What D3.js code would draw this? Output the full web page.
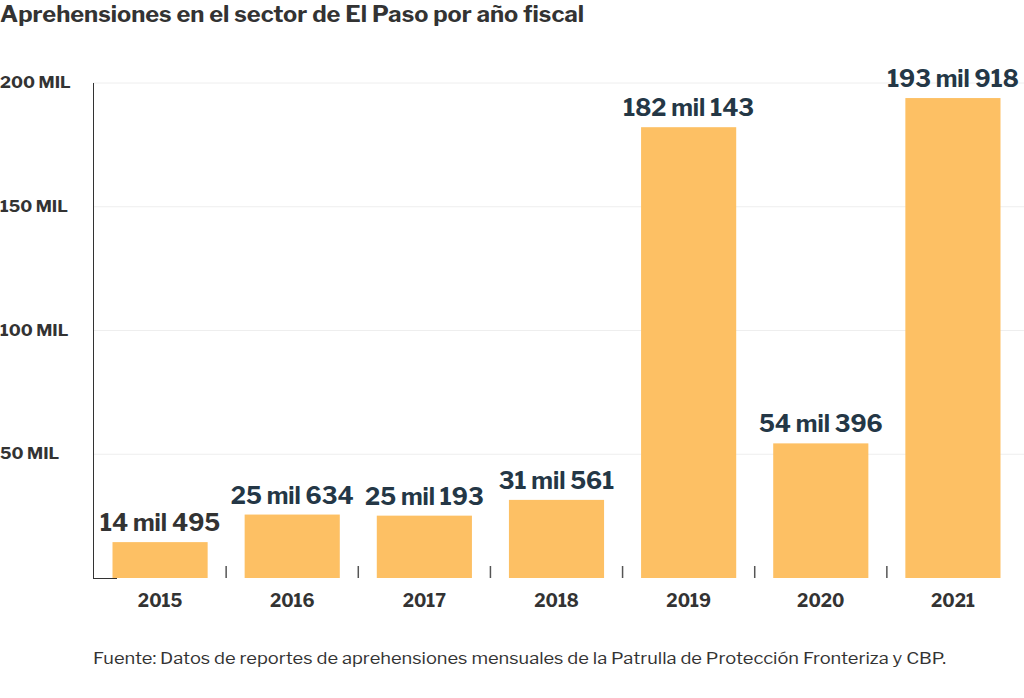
<!DOCTYPE html>
<html>
<head>
<meta charset="utf-8">
<script src="https://cdn.jsdelivr.net/npm/d3@7"></script>
<style>
  body { margin: 0; background: #fff; }
  svg { display: block; font-family: "Libre Franklin", Inter, "Noto Sans", sans-serif; }
</style>
</head>
<body>
<svg id="chart" width="1024" height="698"></svg>
<script>
// data
const years = ["2015", "2016", "2017", "2018", "2019", "2020", "2021"];
const apprehensions = [14495, 25634, 25193, 31561, 182143, 54396, 193918];
const yTicks = [50000, 100000, 150000, 200000];

const svg = d3.select("#chart");
const margin = { left: 93, right: 5, top: 83, bottom: 120 };
const width = 1024, height = 698;

// scales
const x = d3.scaleBand()
  .domain(years)
  .range([margin.left + 1, width - margin.right])
  .paddingInner(0.28)
  .paddingOuter(0.14);

const y = d3.scaleLinear()
  .domain([0, 200000])
  .range([height - margin.bottom, margin.top]);

// label like "14 mil 495"
function milLabel(v) {
  const k = Math.floor(v / 1000);
  const r = v % 1000;
  return k + " mil " + String(r).padStart(3, "0");
}

// title
svg.append("text")
  .attr("x", 0)
  .attr("y", 22)
  .attr("font-size", 22)
  .attr("font-weight", 700)
  .attr("fill", "#333")
  .attr("textLength", 584)
  .attr("lengthAdjust", "spacingAndGlyphs")
  .text("Aprehensiones en el sector de El Paso por año fiscal");

// gridlines
svg.append("g")
  .selectAll("line")
  .data(yTicks)
  .join("line")
  .attr("x1", margin.left)
  .attr("x2", width)
  .attr("y1", d => y(d))
  .attr("y2", d => y(d))
  .attr("stroke", "#eeeeee")
  .attr("stroke-width", 1);

// y tick labels
svg.append("g")
  .selectAll("text")
  .data(yTicks)
  .join("text")
  .attr("x", 0)
  .attr("y", d => y(d) + 5)
  .attr("font-size", 17)
  .attr("font-weight", 700)
  .attr("fill", "#333")
  .text(d => (d / 1000) + " MIL");

// y axis line
svg.append("line")
  .attr("x1", margin.left + 0.5)
  .attr("x2", margin.left + 0.5)
  .attr("y1", y(200000))
  .attr("y2", y(0))
  .attr("stroke", "#333")
  .attr("stroke-width", 1);

// short baseline at the origin
svg.append("line")
  .attr("x1", margin.left)
  .attr("x2", margin.left + 24)
  .attr("y1", y(0) + 0.5)
  .attr("y2", y(0) + 0.5)
  .attr("stroke", "#333")
  .attr("stroke-width", 1);

// bars
svg.append("g")
  .selectAll("rect")
  .data(years)
  .join("rect")
  .attr("x", d => x(d))
  .attr("y", (d, i) => y(apprehensions[i]))
  .attr("width", x.bandwidth())
  .attr("height", (d, i) => y(0) - y(apprehensions[i]))
  .attr("fill", "#fdc064");

// separator ticks between categories
svg.append("g")
  .selectAll("line")
  .data(years.slice(1))
  .join("line")
  .attr("x1", d => x(d) - x.step() * x.paddingInner() / 2)
  .attr("x2", d => x(d) - x.step() * x.paddingInner() / 2)
  .attr("y1", y(0) - 12)
  .attr("y2", y(0))
  .attr("stroke", "#555")
  .attr("stroke-width", 1.5);

// value labels
svg.append("g")
  .selectAll("text")
  .data(years)
  .join("text")
  .attr("x", d => x(d) + x.bandwidth() / 2)
  .attr("y", (d, i) => y(apprehensions[i]) - 11)
  .attr("text-anchor", "middle")
  .attr("font-size", 23.5)
  .attr("font-weight", 700)
  .attr("fill", (d, i) => i === 0 ? "#333333" : "#243746")
  .text((d, i) => milLabel(apprehensions[i]));

// year labels
svg.append("g")
  .selectAll("text")
  .data(years)
  .join("text")
  .attr("x", d => x(d) + x.bandwidth() / 2)
  .attr("y", y(0) + 29)
  .attr("text-anchor", "middle")
  .attr("font-size", 17.5)
  .attr("font-weight", 700)
  .attr("fill", "#333")
  .text(d => d);

// source note
svg.append("text")
  .attr("x", margin.left)
  .attr("y", 664)
  .attr("font-size", 16)
  .attr("fill", "#333")
  .attr("textLength", 853)
  .attr("lengthAdjust", "spacingAndGlyphs")
  .text("Fuente: Datos de reportes de aprehensiones mensuales de la Patrulla de Protección Fronteriza y CBP.");
</script>
</body>
</html>
